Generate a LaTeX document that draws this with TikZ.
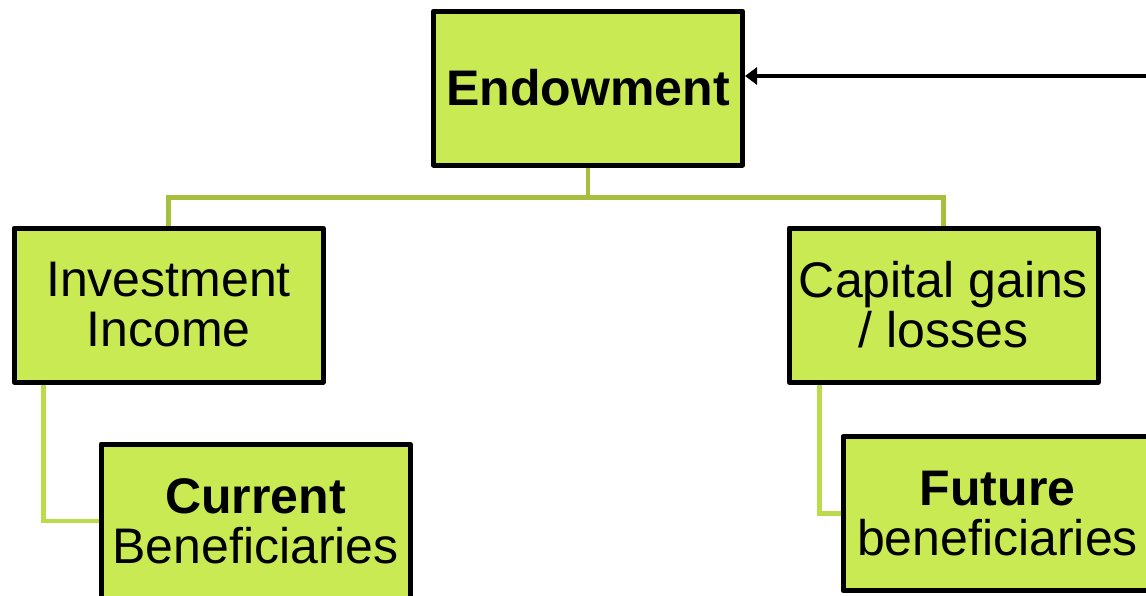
\documentclass[tikz,border=0pt]{standalone}
\usepackage{fontspec}
\setmainfont{Liberation Sans}
\usetikzlibrary{arrows.meta,positioning}
\definecolor{boxfill}{HTML}{C9EA52}
\definecolor{linkdark}{HTML}{A6C03E}
\definecolor{linklight}{HTML}{BADB4A}
\tikzset{
  fundbox/.style={draw=black,fill=boxfill,line width=5pt,line join=round,
    minimum width=309pt,minimum height=154pt,align=center,inner sep=0pt,
    font=\fontsize{50}{50}\selectfont},
  link/.style={line width=4.5pt},
}

\begin{document}
\begin{tikzpicture}[x=1pt,y=-1pt]
    \useasboundingbox (0,0) rectangle (1146,595);
    % boxes
    \node[fundbox] (endow) at (588,88) {\textbf{Endowment}};
    \node[fundbox] (income) at (168.5,305) {Investment\\Income};
    \node[fundbox] (gains) at (943.5,305) {Capital gains\\/ losses};
    \node[fundbox] (current) at (255.5,521) {\textbf{Current}\\Beneficiaries};
    \node[fundbox] (future) at (997.5,513.5) {\textbf{Future}\\beneficiaries};
    \coordinate (feed) at (1150,76);

    % links
    \draw[link,linkdark] (endow.south) -- ++(0,30) -| (income.north);
    \draw[link,linkdark] (endow.south) ++(0,30) -| (gains.north);
    \draw[link,linklight] (income.south west) ++(32,0) |- (current.west);
    \draw[link,linklight] (gains.south west) ++(33,0) |- (future.west);
    \draw[line width=4pt,-{Triangle[length=12pt,width=17pt]}] (feed) -- (endow.east |- feed);
\end{tikzpicture}
\end{document}
